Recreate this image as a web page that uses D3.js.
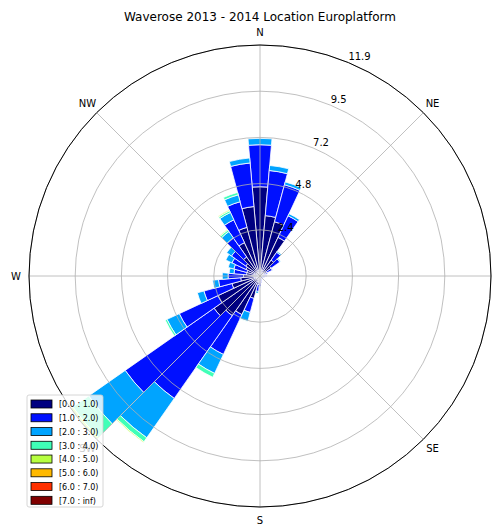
<!DOCTYPE html>
<html>
<head>
<meta charset="utf-8">
<script src="https://cdn.jsdelivr.net/npm/d3@7"></script>
<style>
  body { margin: 0; background: #fff; }
  svg { display: block; }
  text { font-family: "DejaVu Sans", sans-serif; fill: #000; }
</style>
</head>
<body>
<svg id="chart" width="503" height="525"></svg>
<script>
// Wave directions (bearing, degrees clockwise from north), 36 sectors
const directions = [0, 10, 20, 30, 40, 50, 60, 70, 80, 90, 100, 110,
  120, 130, 140, 150, 160, 170, 180, 190, 200, 210, 220, 230,
  240, 250, 260, 270, 280, 290, 300, 310, 320, 330, 340, 350];

// Frequency (%) per direction for each wave height bin
const bin0 = [4.61, 3.13, 2.90, 2.20, 1.00, 0.70, 0.40, 0.25, 0.20, 0.20, 0.15, 0.12,
  0.10, 0.10, 0.10, 0.12, 0.15, 0.20, 0.30, 0.45, 1.20, 2.20, 2.50, 2.90,
  2.40, 1.50, 1.00, 0.85, 0.70, 0.70, 0.80, 0.90, 1.20, 1.90, 2.60, 3.60];
const bin1 = [2.17, 2.34, 1.98, 1.23, 0.50, 0.55, 0.30, 0.15, 0.10, 0.15, 0.10, 0.08,
  0.05, 0.05, 0.05, 0.08, 0.10, 0.15, 0.25, 0.35, 0.75, 2.27, 5.22, 5.60,
  2.20, 1.50, 1.15, 0.80, 0.65, 0.70, 0.80, 0.90, 1.20, 1.30, 1.37, 2.26];
const bin2 = [0.33, 0.26, 0.15, 0.12, 0.06, 0.05, 0.03, 0.00, 0.00, 0.00, 0.00, 0.00,
  0.00, 0.00, 0.00, 0.00, 0.00, 0.00, 0.05, 0.10, 0.48, 1.08, 2.48, 2.30,
  0.70, 0.35, 0.30, 0.30, 0.25, 0.30, 0.35, 0.30, 0.40, 0.42, 0.37, 0.26];
const bin3 = [0, 0, 0, 0, 0, 0, 0, 0, 0, 0, 0, 0,
  0, 0, 0, 0, 0, 0, 0, 0, 0.02, 0.22, 0.25, 1.00,
  0.10, 0, 0, 0, 0, 0, 0, 0, 0.10, 0.10, 0.13, 0];
const bin4 = [0, 0, 0, 0, 0, 0, 0, 0, 0, 0, 0, 0,
  0, 0, 0, 0, 0, 0, 0, 0, 0, 0, 0.05, 0.13,
  0, 0, 0, 0, 0, 0, 0, 0, 0.04, 0.05, 0, 0];
const bin5 = directions.map(() => 0);
const bin6 = directions.map(() => 0);
const bin7 = directions.map(() => 0);

const binLabels = ["[0.0 : 1.0)", "[1.0 : 2.0)", "[2.0 : 3.0)", "[3.0 : 4.0)",
  "[4.0 : 5.0)", "[5.0 : 6.0)", "[6.0 : 7.0)", "[7.0 : inf)"];
const binColors = ["#000080", "#0010ff", "#00a4ff", "#40ffb7",
  "#b7ff40", "#ffb900", "#ff3000", "#800000"];

const radiiLabels = ["2.4", "4.8", "7.2", "9.5", "11.9"];
const compassLabels = ["N", "NE", "SE", "S", "SW", "W", "NW"];
const compassAngles = [0, 45, 135, 180, 225, 270, 315];
const titleText = "Waverose 2013 - 2014 Location Europlatform";

const svg = d3.select("#chart");
const cx = 260, cy = 276, R = 231;

const series = [bin0, bin1, bin2, bin3, bin4, bin5, bin6, bin7];
const totals = directions.map((d, i) => d3.sum(series, s => s[i]));
const rmax = d3.max(totals);
const r = d3.scaleLinear().domain([0, rmax]).range([0, R]);
const toRad = d3.scaleLinear().domain([0, 360]).range([0, 2 * Math.PI]);
const sector = 360 / directions.length;

const plot = svg.append("g").attr("transform", `translate(${cx},${cy})`);

// stacked wedges, one layer per height bin
const stacked = d3.stack()
  .keys(d3.range(series.length))
  .value((i, k) => series[k][i])(d3.range(directions.length));

const arc = d3.arc();
stacked.forEach((layer, k) => {
  plot.append("g")
    .selectAll("path")
    .data(layer.filter(s => s[1] - s[0] > 0))
    .join("path")
    .attr("d", s => arc({
      innerRadius: r(s[0]),
      outerRadius: r(s[1]),
      startAngle: toRad(directions[s.data] - sector / 2),
      endAngle: toRad(directions[s.data] + sector / 2)
    }))
    .attr("fill", binColors[k])
    .attr("stroke", "#fff")
    .attr("stroke-width", 0.8)
    .attr("stroke-linejoin", "miter");
});

// grid on top of the bars
const radii = radiiLabels.map((_, i) => rmax * (i + 1) / radiiLabels.length);
const grid = plot.append("g").attr("fill", "none").attr("stroke", "#b0b0b0").attr("stroke-width", 0.8);
grid.selectAll("circle").data(radii).join("circle").attr("r", d => r(d));
grid.selectAll("line").data(d3.range(0, 360, 45)).join("line")
  .attr("x1", 0).attr("y1", 0)
  .attr("x2", a => R * Math.sin(toRad(a)))
  .attr("y2", a => -R * Math.cos(toRad(a)));

// outer frame
plot.append("circle").attr("r", R).attr("fill", "none").attr("stroke", "#000").attr("stroke-width", 1);

// radial labels along 22.5 degrees
const la = toRad(22.5);
plot.append("g").selectAll("text").data(radii).join("text")
  .attr("x", d => r(d) * Math.sin(la))
  .attr("y", d => -r(d) * Math.cos(la) - 2.3)
  .attr("font-size", 10)
  .attr("text-anchor", "start")
  .text((d, i) => radiiLabels[i]);

// compass labels
const labelR = 244;
plot.append("g").selectAll("text").data(compassLabels).join("text")
  .attr("x", (d, i) => labelR * Math.sin(toRad(compassAngles[i])))
  .attr("y", (d, i) => -labelR * Math.cos(toRad(compassAngles[i])))
  .attr("dy", "0.36em")
  .attr("font-size", 10)
  .attr("text-anchor", "middle")
  .text(d => d);

// title
svg.append("text")
  .attr("x", cx).attr("y", 21)
  .attr("font-size", 12)
  .attr("text-anchor", "middle")
  .text(titleText);

// legend
const legend = svg.append("g").attr("transform", "translate(27,395)");
legend.append("rect")
  .attr("width", 76).attr("height", 112).attr("rx", 2)
  .attr("fill", "#fff").attr("fill-opacity", 0.8)
  .attr("stroke", "#cccccc").attr("stroke-width", 0.8);
const rowStep = 13.76;
const items = legend.selectAll("g.item").data(binLabels).join("g")
  .attr("class", "item")
  .attr("transform", (d, i) => `translate(4,${5 + i * rowStep})`);
items.append("rect")
  .attr("width", 21).attr("height", 8)
  .attr("fill", (d, i) => binColors[i])
  .attr("stroke", "#000").attr("stroke-width", 0.8);
items.append("text")
  .attr("x", 28).attr("y", 7.3)
  .attr("font-size", 8)
  .text(d => d);
</script>
</body>
</html>
